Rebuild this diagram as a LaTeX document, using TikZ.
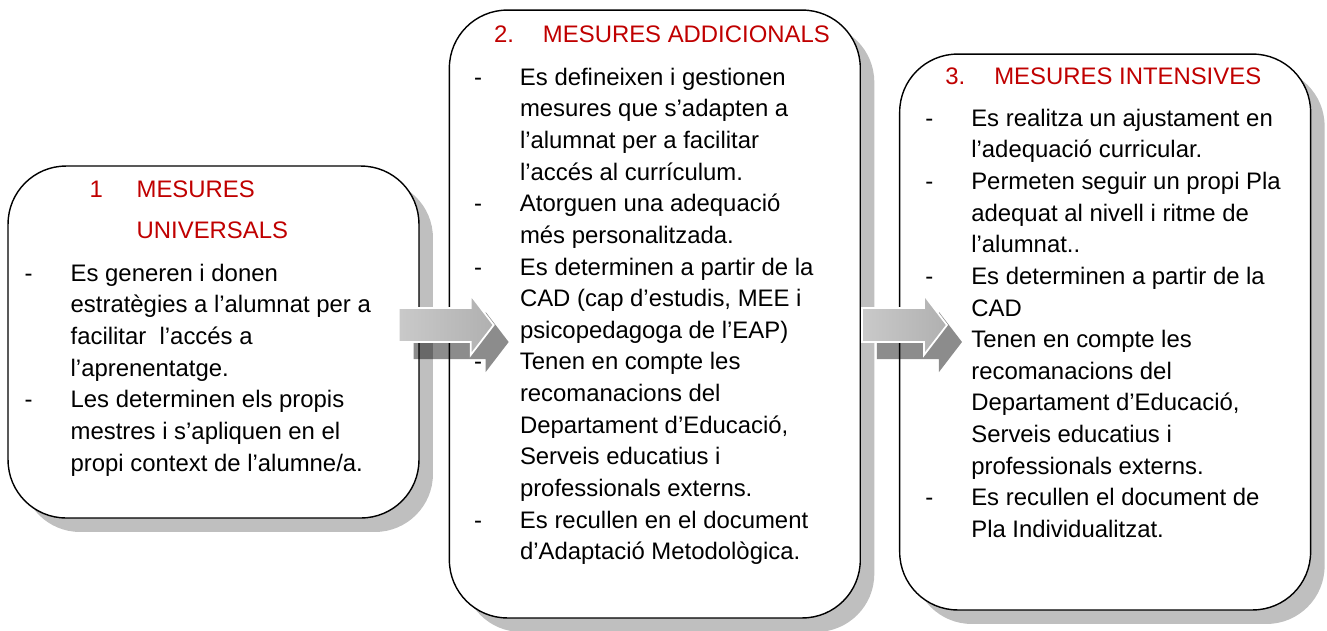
\documentclass[tikz,border=0pt]{standalone}
\usepackage{fontspec}
\setmainfont{Liberation Sans}
\usetikzlibrary{positioning,shadows}
\definecolor{titlered}{RGB}{192,0,0}
\tikzset{
    mesbox/.style={draw, fill=white, line width=0.8pt, rounded corners=1.16cm,
        minimum width=8.22cm, inner sep=0pt,
        drop shadow={shadow xshift=0.28cm, shadow yshift=-0.28cm, fill=gray!50, opacity=1}},
    boxtext/.style={anchor=base west, inner sep=0pt},
    every node/.style={font=\fontsize{13.6}{18}\selectfont}
}
\newcommand{\blockarrow}[2]{%
    \fill[black, opacity=0.45, shift={(#1)}] (15,0) -- (15+#2,0) -- (15+#2,-13) -- (38+#2,17) -- (15+#2,47) -- (15+#2,34) -- (15,34) -- cycle;
    \draw[white, line width=1pt, left color=gray!42, right color=gray!62, shift={(#1)}] (0,-17) -- (#2,-17) -- (#2,-30) -- (23+#2,0) -- (#2,30) -- (#2,17) -- (0,17) -- cycle;
}

\begin{document}
\begin{tikzpicture}[x=0.02cm, y=-0.02cm, node distance=0.58cm]
    \useasboundingbox (0,0) rectangle (1327,630);

    \node[mesbox, minimum height=7.04cm] (box1) at (213.5,342) {};
    \node[mesbox, minimum height=12.16cm, right=of box1, yshift=0.56cm] (box2) {};
    \node[mesbox, minimum height=11.12cm, right=of box2, xshift=0.18cm, yshift=-0.36cm] (box3) {};

    \node[boxtext, xshift=1.64cm, yshift=-0.64cm, text=titlered] (title1) at (box1.north west)
        {\begin{tabular}[t]{@{}p{0.94cm}@{}l@{}}1 & MESURES\\[5.3pt] & UNIVERSALS\end{tabular}};
    \node[boxtext, xshift=0.34cm, yshift=-2.32cm] (list1) at (box1.north west)
        {\begin{tabular}[t]{@{}p{0.92cm}@{}l@{}}
        - & Es generen i donen\\
          & estratègies a l’alumnat per a\\
          & facilitar\ \ l’accés a\\
          & l’aprenentatge.\\
        - & Les determinen els propis\\
          & mestres i s’apliquen en el\\
          & propi context de l’alumne/a.
        \end{tabular}};

    \node[boxtext, xshift=0.9cm, yshift=-0.66cm, text=titlered] (title2) at (box2.north west)
        {\begin{tabular}[t]{@{}p{0.98cm}@{}l@{}}2. & MESURES ADDICIONALS\end{tabular}};
    \node[boxtext, xshift=0.5cm, yshift=-1.52cm] (list2) at (box2.north west)
        {\begin{tabular}[t]{@{}p{0.92cm}@{}l@{}}
        - & Es defineixen i gestionen\\
          & mesures que s’adapten a\\
          & l’alumnat per a facilitar\\
          & l’accés al currículum.\\
        - & Atorguen una adequació\\
          & més personalitzada.\\
        - & Es determinen a partir de la\\
          & CAD (cap d’estudis, MEE i\\
          & psicopedagoga de l’EAP)\\
        - & Tenen en compte les\\
          & recomanacions del\\
          & Departament d’Educació,\\
          & Serveis educatius i\\
          & professionals externs.\\
        - & Es recullen en el document\\
          & d’Adaptació Metodològica.
        \end{tabular}};

    \node[boxtext, xshift=0.92cm, yshift=-0.62cm, text=titlered] (title3) at (box3.north west)
        {\begin{tabular}[t]{@{}p{0.98cm}@{}l@{}}3. & MESURES INTENSIVES\end{tabular}};
    \node[boxtext, xshift=0.52cm, yshift=-1.46cm] (list3) at (box3.north west)
        {\begin{tabular}[t]{@{}p{0.92cm}@{}l@{}}
        - & Es realitza un ajustament en\\
          & l’adequació curricular.\\
        - & Permeten seguir un propi Pla\\
          & adequat al nivell i ritme de\\
          & l’alumnat..\\
        - & Es determinen a partir de la\\
          & CAD\\
        - & Tenen en compte les\\
          & recomanacions del\\
          & Departament d’Educació,\\
          & Serveis educatius i\\
          & professionals externs.\\
        - & Es recullen el document de\\
          & Pla Individualitzat.
        \end{tabular}};

    \coordinate (arr1) at ([xshift=-0.42cm, yshift=0.34cm]box1.east);
    \coordinate (arr2) at ([xshift=0.02cm, yshift=-0.22cm]box2.east);
    \blockarrow{arr1}{72}
    \blockarrow{arr2}{62}
\end{tikzpicture}
\end{document}
